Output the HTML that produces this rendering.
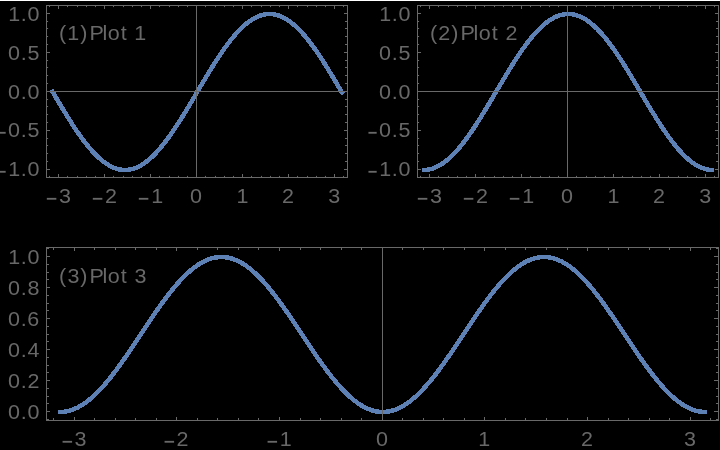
<!DOCTYPE html>
<html lang="en"><head><meta charset="utf-8"><title>Plot 1, Plot 2, Plot 3</title>
<style>
html,body{margin:0;padding:0;background:#000;width:720px;height:450px;overflow:hidden}
svg{display:block;will-change:transform}
.c{fill:none;stroke:#5e81b5;stroke-width:4.5;stroke-linecap:butt;stroke-linejoin:round;shape-rendering:crispEdges}
.a{fill:none;stroke:#696969;stroke-width:1}
.t{font-family:"Liberation Sans",sans-serif;font-size:20.3px;fill:#686868}
</style></head><body>
<svg width="720" height="450" viewBox="0 0 720 450" role="img" aria-label="Three framed plots: sin x, cos x and sin squared x on a black background">
<rect width="720" height="450" fill="#000"/>
<rect width="720" height="1" fill="#fff"/>
<polyline class="c" points="51.37,89.76 52.69,92 55.58,96.9 58.47,101.78 61.36,106.62 64.25,111.4 67.14,116.1 70.03,120.71 72.92,125.21 75.81,129.58 78.7,133.79 81.59,137.85 84.48,141.72 87.37,145.39 90.26,148.86 93.15,152.1 96.04,155.1 98.93,157.86 101.82,160.35 104.71,162.58 107.6,164.52 110.49,166.18 113.38,167.55 116.27,168.62 119.16,169.38 122.05,169.85 124.94,170 127.83,169.85 130.72,169.38 133.61,168.62 136.5,167.55 139.39,166.18 142.28,164.52 145.18,162.58 148.07,160.35 150.96,157.86 153.85,155.1 156.74,152.1 159.63,148.86 162.52,145.39 165.41,141.72 168.3,137.85 171.19,133.79 174.08,129.58 176.97,125.21 179.86,120.71 182.75,116.1 185.64,111.4 188.53,106.62 191.42,101.78 194.31,96.9 197.2,92 200.09,87.1 202.98,82.22 205.87,77.38 208.76,72.6 211.65,67.9 214.54,63.29 217.43,58.79 220.32,54.42 223.21,50.21 226.1,46.15 228.99,42.28 231.88,38.61 234.77,35.14 237.66,31.9 240.55,28.9 243.44,26.14 246.33,23.65 249.22,21.42 252.12,19.48 255.01,17.82 257.9,16.45 260.79,15.38 263.68,14.62 266.57,14.15 269.46,14 272.35,14.15 275.24,14.62 278.13,15.38 281.02,16.45 283.91,17.82 286.8,19.48 289.69,21.42 292.58,23.65 295.47,26.14 298.36,28.9 301.25,31.9 304.14,35.14 307.03,38.61 309.92,42.28 312.81,46.15 315.7,50.21 318.59,54.42 321.48,58.79 324.37,63.29 327.26,67.9 330.15,72.6 333.04,77.38 335.93,82.22 338.82,87.1 341.71,92 343.03,94.24"/>
<path class="a" d="M46.5 91.5H347.5M196.5 5.5V177.5M49.5 177.5v-1.6M49.5 5.5v1.6M58.5 177.5v-3.5M58.5 5.5v3.5M67.5 177.5v-1.6M67.5 5.5v1.6M77.5 177.5v-1.6M77.5 5.5v1.6M86.5 177.5v-1.6M86.5 5.5v1.6M95.5 177.5v-1.6M95.5 5.5v1.6M104.5 177.5v-3.5M104.5 5.5v3.5M113.5 177.5v-1.6M113.5 5.5v1.6M123.5 177.5v-1.6M123.5 5.5v1.6M132.5 177.5v-1.6M132.5 5.5v1.6M141.5 177.5v-1.6M141.5 5.5v1.6M150.5 177.5v-3.5M150.5 5.5v3.5M159.5 177.5v-1.6M159.5 5.5v1.6M169.5 177.5v-1.6M169.5 5.5v1.6M178.5 177.5v-1.6M178.5 5.5v1.6M187.5 177.5v-1.6M187.5 5.5v1.6M196.5 177.5v-3.5M196.5 5.5v3.5M205.5 177.5v-1.6M205.5 5.5v1.6M215.5 177.5v-1.6M215.5 5.5v1.6M224.5 177.5v-1.6M224.5 5.5v1.6M233.5 177.5v-1.6M233.5 5.5v1.6M242.5 177.5v-3.5M242.5 5.5v3.5M251.5 177.5v-1.6M251.5 5.5v1.6M261.5 177.5v-1.6M261.5 5.5v1.6M270.5 177.5v-1.6M270.5 5.5v1.6M279.5 177.5v-1.6M279.5 5.5v1.6M288.5 177.5v-3.5M288.5 5.5v3.5M297.5 177.5v-1.6M297.5 5.5v1.6M307.5 177.5v-1.6M307.5 5.5v1.6M316.5 177.5v-1.6M316.5 5.5v1.6M325.5 177.5v-1.6M325.5 5.5v1.6M334.5 177.5v-3.5M334.5 5.5v3.5M343.5 177.5v-1.6M343.5 5.5v1.6M46.5 177.5h1.6M347.5 177.5h-2.5M46.5 169.5h3.5M347.5 169.5h-3.5M46.5 161.5h1.6M347.5 161.5h-2.5M46.5 153.5h1.6M347.5 153.5h-2.5M46.5 145.5h1.6M347.5 145.5h-2.5M46.5 138.5h1.6M347.5 138.5h-2.5M46.5 130.5h3.5M347.5 130.5h-3.5M46.5 122.5h1.6M347.5 122.5h-2.5M46.5 114.5h1.6M347.5 114.5h-2.5M46.5 106.5h1.6M347.5 106.5h-2.5M46.5 99.5h1.6M347.5 99.5h-2.5M46.5 91.5h3.5M347.5 91.5h-3.5M46.5 83.5h1.6M347.5 83.5h-2.5M46.5 75.5h1.6M347.5 75.5h-2.5M46.5 67.5h1.6M347.5 67.5h-2.5M46.5 60.5h1.6M347.5 60.5h-2.5M46.5 52.5h3.5M347.5 52.5h-3.5M46.5 44.5h1.6M347.5 44.5h-2.5M46.5 36.5h1.6M347.5 36.5h-2.5M46.5 28.5h1.6M347.5 28.5h-2.5M46.5 21.5h1.6M347.5 21.5h-2.5M46.5 13.5h3.5M347.5 13.5h-3.5"/>
<rect class="a" x="46.5" y="5.5" width="301" height="172"/>
<text class="t" transform="scale(1.06 1)" y="20.6" x="7.75 19.49 25.87">1.0</text>
<text class="t" transform="scale(1.06 1)" y="59.6" x="7.47 19.49 25.89">0.5</text>
<text class="t" transform="scale(1.06 1)" y="98.6" x="7.47 19.49 25.87">0.0</text>
<g>
<text class="t" transform="translate(-3.13 140.54) scale(0.831 1.25)">−</text>
<text class="t" transform="scale(1.06 1)" y="136.6" x="7.47 19.49 25.89">0.5</text>
</g>
<g>
<text class="t" transform="translate(-3.13 179.54) scale(0.831 1.25)">−</text>
<text class="t" transform="scale(1.06 1)" y="175.6" x="7.75 19.49 25.87">1.0</text>
</g>
<g>
<text class="t" transform="translate(46.09 206.74) scale(0.963 1.25)">−</text>
<text class="t" transform="scale(1.06 1)" y="202.8" x="55.64">3</text>
</g>
<g>
<text class="t" transform="translate(92.09 206.74) scale(0.963 1.25)">−</text>
<text class="t" transform="scale(1.06 1)" y="202.8" x="98.98">2</text>
</g>
<g>
<text class="t" transform="translate(138.09 206.74) scale(0.963 1.25)">−</text>
<text class="t" transform="scale(1.06 1)" y="202.8" x="142.65">1</text>
</g>
<text class="t" transform="scale(1.06 1)" y="202.8" x="179.36">0</text>
<text class="t" transform="scale(1.06 1)" y="202.8" x="223.03">1</text>
<text class="t" transform="scale(1.06 1)" y="202.8" x="266.15">2</text>
<text class="t" transform="scale(1.06 1)" y="202.8" x="309.61">3</text>
<text class="t" transform="scale(1.06 1)" y="40" x="55.77 63.41 75.77 85 84.35 96.71 101.62 113.89 124.62 126.71">(1) Plot 1</text>
<polyline class="c" points="421.94,170 423.69,170 426.58,169.85 429.47,169.38 432.36,168.62 435.25,167.55 438.14,166.18 441.03,164.52 443.92,162.58 446.81,160.35 449.7,157.86 452.59,155.1 455.48,152.1 458.37,148.86 461.26,145.39 464.15,141.72 467.04,137.85 469.93,133.79 472.82,129.58 475.71,125.21 478.6,120.71 481.49,116.1 484.38,111.4 487.27,106.62 490.16,101.78 493.05,96.9 495.94,92 498.83,87.1 501.72,82.22 504.61,77.38 507.5,72.6 510.39,67.9 513.28,63.29 516.18,58.79 519.07,54.42 521.96,50.21 524.85,46.15 527.74,42.28 530.63,38.61 533.52,35.14 536.41,31.9 539.3,28.9 542.19,26.14 545.08,23.65 547.97,21.42 550.86,19.48 553.75,17.82 556.64,16.45 559.53,15.38 562.42,14.62 565.31,14.15 568.2,14 571.09,14.15 573.98,14.62 576.87,15.38 579.76,16.45 582.65,17.82 585.54,19.48 588.43,21.42 591.32,23.65 594.21,26.14 597.1,28.9 599.99,31.9 602.88,35.14 605.77,38.61 608.66,42.28 611.55,46.15 614.44,50.21 617.33,54.42 620.22,58.79 623.12,63.29 626.01,67.9 628.9,72.6 631.79,77.38 634.68,82.22 637.57,87.1 640.46,92 643.35,96.9 646.24,101.78 649.13,106.62 652.02,111.4 654.91,116.1 657.8,120.71 660.69,125.21 663.58,129.58 666.47,133.79 669.36,137.85 672.25,141.72 675.14,145.39 678.03,148.86 680.92,152.1 683.81,155.1 686.7,157.86 689.59,160.35 692.48,162.58 695.37,164.52 698.26,166.18 701.15,167.55 704.04,168.62 706.93,169.38 709.82,169.85 712.71,170 714.46,170"/>
<path class="a" d="M417.5 91.5H718.5M567.5 5.5V177.5M420.5 177.5v-1.6M420.5 5.5v1.6M429.5 177.5v-3.5M429.5 5.5v3.5M438.5 177.5v-1.6M438.5 5.5v1.6M448.5 177.5v-1.6M448.5 5.5v1.6M457.5 177.5v-1.6M457.5 5.5v1.6M466.5 177.5v-1.6M466.5 5.5v1.6M475.5 177.5v-3.5M475.5 5.5v3.5M484.5 177.5v-1.6M484.5 5.5v1.6M494.5 177.5v-1.6M494.5 5.5v1.6M503.5 177.5v-1.6M503.5 5.5v1.6M512.5 177.5v-1.6M512.5 5.5v1.6M521.5 177.5v-3.5M521.5 5.5v3.5M530.5 177.5v-1.6M530.5 5.5v1.6M540.5 177.5v-1.6M540.5 5.5v1.6M549.5 177.5v-1.6M549.5 5.5v1.6M558.5 177.5v-1.6M558.5 5.5v1.6M567.5 177.5v-3.5M567.5 5.5v3.5M576.5 177.5v-1.6M576.5 5.5v1.6M586.5 177.5v-1.6M586.5 5.5v1.6M595.5 177.5v-1.6M595.5 5.5v1.6M604.5 177.5v-1.6M604.5 5.5v1.6M613.5 177.5v-3.5M613.5 5.5v3.5M622.5 177.5v-1.6M622.5 5.5v1.6M632.5 177.5v-1.6M632.5 5.5v1.6M641.5 177.5v-1.6M641.5 5.5v1.6M650.5 177.5v-1.6M650.5 5.5v1.6M659.5 177.5v-3.5M659.5 5.5v3.5M668.5 177.5v-1.6M668.5 5.5v1.6M678.5 177.5v-1.6M678.5 5.5v1.6M687.5 177.5v-1.6M687.5 5.5v1.6M696.5 177.5v-1.6M696.5 5.5v1.6M705.5 177.5v-3.5M705.5 5.5v3.5M714.5 177.5v-1.6M714.5 5.5v1.6M417.5 177.5h1.6M718.5 177.5h-2.5M417.5 169.5h3.5M718.5 169.5h-3.5M417.5 161.5h1.6M718.5 161.5h-2.5M417.5 153.5h1.6M718.5 153.5h-2.5M417.5 145.5h1.6M718.5 145.5h-2.5M417.5 138.5h1.6M718.5 138.5h-2.5M417.5 130.5h3.5M718.5 130.5h-3.5M417.5 122.5h1.6M718.5 122.5h-2.5M417.5 114.5h1.6M718.5 114.5h-2.5M417.5 106.5h1.6M718.5 106.5h-2.5M417.5 99.5h1.6M718.5 99.5h-2.5M417.5 91.5h3.5M718.5 91.5h-3.5M417.5 83.5h1.6M718.5 83.5h-2.5M417.5 75.5h1.6M718.5 75.5h-2.5M417.5 67.5h1.6M718.5 67.5h-2.5M417.5 60.5h1.6M718.5 60.5h-2.5M417.5 52.5h3.5M718.5 52.5h-3.5M417.5 44.5h1.6M718.5 44.5h-2.5M417.5 36.5h1.6M718.5 36.5h-2.5M417.5 28.5h1.6M718.5 28.5h-2.5M417.5 21.5h1.6M718.5 21.5h-2.5M417.5 13.5h3.5M718.5 13.5h-3.5"/>
<rect class="a" x="417.5" y="5.5" width="301" height="172"/>
<text class="t" transform="scale(1.06 1)" y="20.6" x="357.75 369.49 375.87">1.0</text>
<text class="t" transform="scale(1.06 1)" y="59.6" x="357.47 369.49 375.89">0.5</text>
<text class="t" transform="scale(1.06 1)" y="98.6" x="357.47 369.49 375.87">0.0</text>
<g>
<text class="t" transform="translate(367.87 140.54) scale(0.831 1.25)">−</text>
<text class="t" transform="scale(1.06 1)" y="136.6" x="357.47 369.49 375.89">0.5</text>
</g>
<g>
<text class="t" transform="translate(367.87 179.54) scale(0.831 1.25)">−</text>
<text class="t" transform="scale(1.06 1)" y="175.6" x="357.75 369.49 375.87">1.0</text>
</g>
<g>
<text class="t" transform="translate(417.09 206.74) scale(0.963 1.25)">−</text>
<text class="t" transform="scale(1.06 1)" y="202.8" x="405.64">3</text>
</g>
<g>
<text class="t" transform="translate(463.09 206.74) scale(0.963 1.25)">−</text>
<text class="t" transform="scale(1.06 1)" y="202.8" x="448.98">2</text>
</g>
<g>
<text class="t" transform="translate(509.09 206.74) scale(0.963 1.25)">−</text>
<text class="t" transform="scale(1.06 1)" y="202.8" x="492.65">1</text>
</g>
<text class="t" transform="scale(1.06 1)" y="202.8" x="529.36">0</text>
<text class="t" transform="scale(1.06 1)" y="202.8" x="573.03">1</text>
<text class="t" transform="scale(1.06 1)" y="202.8" x="616.15">2</text>
<text class="t" transform="scale(1.06 1)" y="202.8" x="659.61">3</text>
<text class="t" transform="scale(1.06 1)" y="40" x="405.77 413.51 425.77 435 434.35 446.71 451.62 463.89 474.62 476.81">(2) Plot 2</text>
<polyline class="c" points="58.26,412 60.01,412 62.89,411.88 65.77,411.51 68.65,410.91 71.53,410.06 74.41,408.97 77.29,407.65 80.17,406.1 83.05,404.33 85.93,402.33 88.82,400.12 91.7,397.71 94.58,395.09 97.46,392.29 100.34,389.3 103.22,386.14 106.1,382.82 108.98,379.35 111.86,375.73 114.74,371.99 117.62,368.13 120.5,364.16 123.38,360.1 126.27,355.95 129.15,351.75 132.03,347.48 134.91,343.18 137.79,338.85 140.67,334.5 143.55,330.15 146.43,325.82 149.31,321.52 152.19,317.25 155.07,313.05 157.95,308.9 160.83,304.84 163.71,300.87 166.6,297.01 169.48,293.27 172.36,289.65 175.24,286.18 178.12,282.86 181,279.7 183.88,276.71 186.76,273.91 189.64,271.29 192.52,268.88 195.4,266.67 198.28,264.67 201.16,262.9 204.04,261.35 206.93,260.03 209.81,258.94 212.69,258.09 215.57,257.49 218.45,257.12 221.33,257 224.21,257.12 227.09,257.49 229.97,258.09 232.85,258.94 235.73,260.03 238.61,261.35 241.49,262.9 244.38,264.67 247.26,266.67 250.14,268.88 253.02,271.29 255.9,273.91 258.78,276.71 261.66,279.7 264.54,282.86 267.42,286.18 270.3,289.65 273.18,293.27 276.06,297.01 278.94,300.87 281.82,304.84 284.71,308.9 287.59,313.05 290.47,317.25 293.35,321.52 296.23,325.82 299.11,330.15 301.99,334.5 304.87,338.85 307.75,343.18 310.63,347.48 313.51,351.75 316.39,355.95 319.27,360.1 322.15,364.16 325.04,368.13 327.92,371.99 330.8,375.73 333.68,379.35 336.56,382.82 339.44,386.14 342.32,389.3 345.2,392.29 348.08,395.09 350.96,397.71 353.84,400.12 356.72,402.33 359.6,404.33 362.48,406.1 365.37,407.65 368.25,408.97 371.13,410.06 374.01,410.91 376.89,411.51 379.77,411.88 382.65,412 385.53,411.88 388.41,411.51 391.29,410.91 394.17,410.06 397.05,408.97 399.93,407.65 402.82,406.1 405.7,404.33 408.58,402.33 411.46,400.12 414.34,397.71 417.22,395.09 420.1,392.29 422.98,389.3 425.86,386.14 428.74,382.82 431.62,379.35 434.5,375.73 437.38,371.99 440.26,368.13 443.15,364.16 446.03,360.1 448.91,355.95 451.79,351.75 454.67,347.48 457.55,343.18 460.43,338.85 463.31,334.5 466.19,330.15 469.07,325.82 471.95,321.52 474.83,317.25 477.71,313.05 480.59,308.9 483.48,304.84 486.36,300.87 489.24,297.01 492.12,293.27 495,289.65 497.88,286.18 500.76,282.86 503.64,279.7 506.52,276.71 509.4,273.91 512.28,271.29 515.16,268.88 518.04,266.67 520.92,264.67 523.81,262.9 526.69,261.35 529.57,260.03 532.45,258.94 535.33,258.09 538.21,257.49 541.09,257.12 543.97,257 546.85,257.12 549.73,257.49 552.61,258.09 555.49,258.94 558.37,260.03 561.26,261.35 564.14,262.9 567.02,264.67 569.9,266.67 572.78,268.88 575.66,271.29 578.54,273.91 581.42,276.71 584.3,279.7 587.18,282.86 590.06,286.18 592.94,289.65 595.82,293.27 598.7,297.01 601.59,300.87 604.47,304.84 607.35,308.9 610.23,313.05 613.11,317.25 615.99,321.52 618.87,325.82 621.75,330.15 624.63,334.5 627.51,338.85 630.39,343.18 633.27,347.48 636.15,351.75 639.03,355.95 641.92,360.1 644.8,364.16 647.68,368.13 650.56,371.99 653.44,375.73 656.32,379.35 659.2,382.82 662.08,386.14 664.96,389.3 667.84,392.29 670.72,395.09 673.6,397.71 676.48,400.12 679.37,402.33 682.25,404.33 685.13,406.1 688.01,407.65 690.89,408.97 693.77,410.06 696.65,410.91 699.53,411.51 702.41,411.88 705.29,412 707.04,412"/>
<path class="a" d="M382.5 247.5V420.5M53.5 420.5v-2.5M53.5 247.5v2.5M74.5 420.5v-3.5M74.5 247.5v3.5M94.5 420.5v-2.5M94.5 247.5v2.5M115.5 420.5v-2.5M115.5 247.5v2.5M135.5 420.5v-2.5M135.5 247.5v2.5M156.5 420.5v-2.5M156.5 247.5v2.5M176.5 420.5v-3.5M176.5 247.5v3.5M197.5 420.5v-2.5M197.5 247.5v2.5M217.5 420.5v-2.5M217.5 247.5v2.5M238.5 420.5v-2.5M238.5 247.5v2.5M258.5 420.5v-2.5M258.5 247.5v2.5M279.5 420.5v-3.5M279.5 247.5v3.5M300.5 420.5v-2.5M300.5 247.5v2.5M320.5 420.5v-2.5M320.5 247.5v2.5M341.5 420.5v-2.5M341.5 247.5v2.5M361.5 420.5v-2.5M361.5 247.5v2.5M382.5 420.5v-3.5M382.5 247.5v3.5M402.5 420.5v-2.5M402.5 247.5v2.5M423.5 420.5v-2.5M423.5 247.5v2.5M443.5 420.5v-2.5M443.5 247.5v2.5M464.5 420.5v-2.5M464.5 247.5v2.5M484.5 420.5v-3.5M484.5 247.5v3.5M505.5 420.5v-2.5M505.5 247.5v2.5M525.5 420.5v-2.5M525.5 247.5v2.5M546.5 420.5v-2.5M546.5 247.5v2.5M567.5 420.5v-2.5M567.5 247.5v2.5M587.5 420.5v-3.5M587.5 247.5v3.5M608.5 420.5v-2.5M608.5 247.5v2.5M628.5 420.5v-2.5M628.5 247.5v2.5M649.5 420.5v-2.5M649.5 247.5v2.5M669.5 420.5v-2.5M669.5 247.5v2.5M690.5 420.5v-3.5M690.5 247.5v3.5M710.5 420.5v-2.5M710.5 247.5v2.5M46.5 419.5h2.5M718.5 419.5h-2.5M46.5 411.5h3.5M718.5 411.5h-4.5M46.5 403.5h2.5M718.5 403.5h-2.5M46.5 396.5h2.5M718.5 396.5h-2.5M46.5 388.5h2.5M718.5 388.5h-2.5M46.5 380.5h3.5M718.5 380.5h-4.5M46.5 372.5h2.5M718.5 372.5h-2.5M46.5 365.5h2.5M718.5 365.5h-2.5M46.5 357.5h2.5M718.5 357.5h-2.5M46.5 349.5h3.5M718.5 349.5h-4.5M46.5 341.5h2.5M718.5 341.5h-2.5M46.5 334.5h2.5M718.5 334.5h-2.5M46.5 326.5h2.5M718.5 326.5h-2.5M46.5 318.5h3.5M718.5 318.5h-4.5M46.5 310.5h2.5M718.5 310.5h-2.5M46.5 303.5h2.5M718.5 303.5h-2.5M46.5 295.5h2.5M718.5 295.5h-2.5M46.5 287.5h3.5M718.5 287.5h-4.5M46.5 279.5h2.5M718.5 279.5h-2.5M46.5 272.5h2.5M718.5 272.5h-2.5M46.5 264.5h2.5M718.5 264.5h-2.5M46.5 256.5h3.5M718.5 256.5h-4.5M46.5 248.5h2.5M718.5 248.5h-2.5"/>
<rect class="a" x="46.5" y="247.5" width="672" height="173"/>
<text class="t" transform="scale(1.06 1)" y="418.6" x="7.47 19.49 25.87">0.0</text>
<text class="t" transform="scale(1.06 1)" y="387.6" x="7.47 19.49 25.87">0.2</text>
<text class="t" transform="scale(1.06 1)" y="356.6" x="7.47 19.49 25.93">0.4</text>
<text class="t" transform="scale(1.06 1)" y="325.6" x="7.47 19.49 25.83">0.6</text>
<text class="t" transform="scale(1.06 1)" y="294.6" x="7.47 19.49 25.87">0.8</text>
<text class="t" transform="scale(1.06 1)" y="263.6" x="7.75 19.49 25.87">1.0</text>
<g>
<text class="t" transform="translate(61.69 449.64) scale(0.963 1.25)">−</text>
<text class="t" transform="scale(1.06 1)" y="445.7" x="70.36">3</text>
</g>
<g>
<text class="t" transform="translate(163.69 449.64) scale(0.963 1.25)">−</text>
<text class="t" transform="scale(1.06 1)" y="445.7" x="166.53">2</text>
</g>
<g>
<text class="t" transform="translate(266.69 449.64) scale(0.963 1.25)">−</text>
<text class="t" transform="scale(1.06 1)" y="445.7" x="263.97">1</text>
</g>
<text class="t" transform="scale(1.06 1)" y="445.7" x="354.73">0</text>
<text class="t" transform="scale(1.06 1)" y="445.7" x="451.24">1</text>
<text class="t" transform="scale(1.06 1)" y="445.7" x="548.13">2</text>
<text class="t" transform="scale(1.06 1)" y="445.7" x="645.36">3</text>
<text class="t" transform="scale(1.06 1)" y="283" x="55.77 63.57 75.77 85 84.35 96.71 101.62 113.89 124.62 126.87">(3) Plot 3</text>
</svg>
</body></html>
